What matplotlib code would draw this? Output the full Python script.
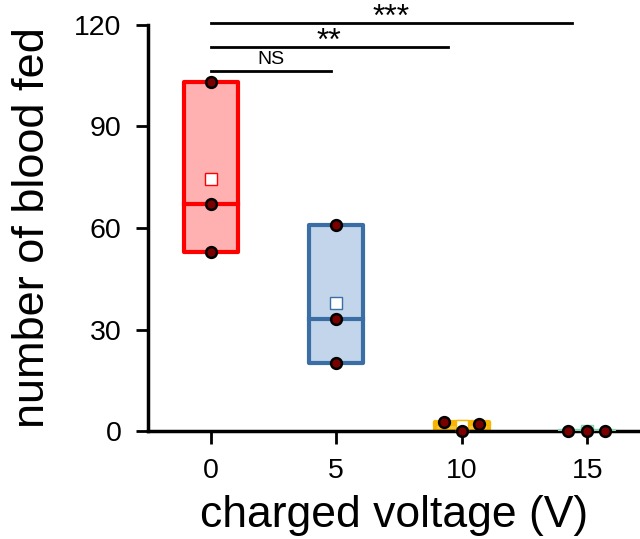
import matplotlib
matplotlib.use("Agg")
import matplotlib.pyplot as plt
import numpy as np

plt.rcParams['font.family'] = ['Liberation Sans', 'DejaVu Sans']

voltages = [0, 5, 10, 15]
points = [[103, 67, 53], [61, 33, 20], [2.7, 0, 2], [0, 0, 0]]
jitter = [[0, 0, 0], [0, 0, 0], [-0.7, 0, 0.7], [-0.75, 0, 0.7]]
edge_colors = ["#ff0000", "#3a6ea5", "#f7b500", "#7fd6b0"]
fill_colors = ["#ffb0b0", "#c2d5ea", "#f9c640", "#bfeedd"]

sig_pairs = [(0, 4.8, 106.5, "NS"), (0, 9.45, 113.5, "**"), (0, 14.4, 120.5, "***")]

fig, ax = plt.subplots(figsize=(6.4, 5.39), dpi=100)
fig.subplots_adjust(left=0.231, right=1.0, top=0.954, bottom=0.2)

bw = 2.15
for x, pts, jit, ec, fc in zip(voltages, points, jitter, edge_colors, fill_colors):
    lo, hi, med, mean = min(pts), max(pts), float(np.median(pts)), float(np.mean(pts))
    ax.add_patch(plt.Rectangle((x - bw / 2, lo), bw, hi - lo, facecolor=fc,
                               edgecolor=ec, lw=3, zorder=2, joinstyle="round"))
    ax.plot([x - bw / 2, x + bw / 2], [med, med], color=ec, lw=3, zorder=3)
    ax.plot(x, mean, "s", ms=8, mfc="white", mec=ec, mew=1, zorder=4)
    ax.scatter(np.array(jit) + x, pts, s=60, color="#7a0000", edgecolor="black",
               lw=1.8, zorder=5, clip_on=False)

for x0, x1, y, txt in sig_pairs:
    ax.plot([x0, x1], [y, y], color="black", lw=2, clip_on=False)
    if txt == "NS":
        ax.annotate(txt, ((x0 + x1) / 2, y), xytext=(0, 1.5), textcoords="offset points",
                    ha="center", va="bottom", fontsize=14)
    else:
        ax.annotate(txt, ((x0 + x1) / 2, y), xytext=(0, -2), textcoords="offset points",
                    ha="center", va="baseline", fontsize=23, annotation_clip=False)

ax.set_xlim(-2.5, 17.1)
ax.set_ylim(0, 120)
ax.set_xticks(voltages)
ax.set_yticks([0, 30, 60, 90, 120])
ax.tick_params(labelsize=20.5, width=2, length=9, direction="out", pad=10)
for s in ["top", "right"]:
    ax.spines[s].set_visible(False)
for s in ["left", "bottom"]:
    ax.spines[s].set_linewidth(2.5)
ax.set_xlabel("charged voltage (V)", fontsize=32, labelpad=8)
ax.set_ylabel("number of blood fed", fontsize=32.5, labelpad=15)

fig.savefig("out.png", dpi=100)
